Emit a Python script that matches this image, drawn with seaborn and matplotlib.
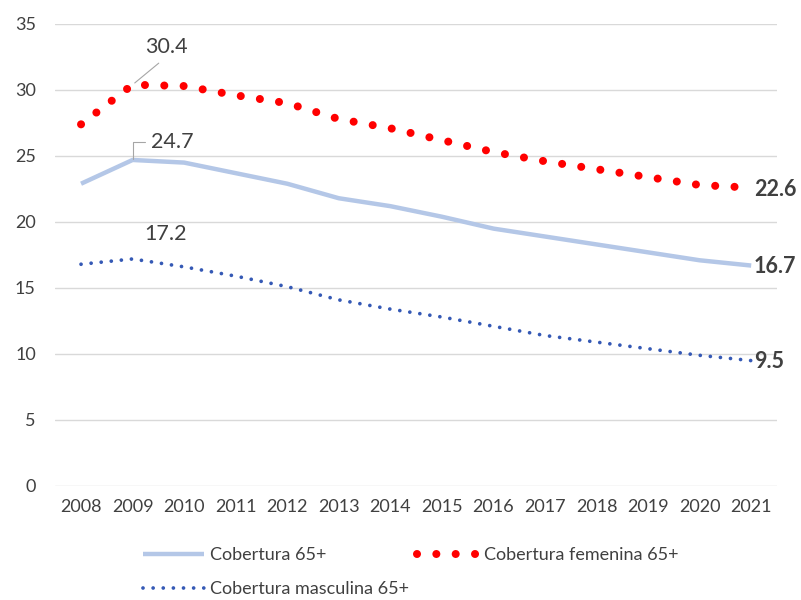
import pandas as pd
import matplotlib.pyplot as plt
import seaborn as sns

# Data
years = list(range(2008, 2022))
total = [22.9, 24.7, 24.5, 23.7, 22.9, 21.8, 21.2, 20.4, 19.5, 18.9, 18.3, 17.7, 17.1, 16.7]
female = [27.4, 30.4, 30.3, 29.6, 29.0, 27.8, 27.1, 26.2, 25.3, 24.6, 24.0, 23.4, 22.8, 22.6]
male = [16.8, 17.2, 16.6, 15.9, 15.1, 14.1, 13.4, 12.8, 12.1, 11.4, 10.9, 10.4, 9.9, 9.5]
names = ['Cobertura 65+', 'Cobertura femenina 65+', 'Cobertura masculina 65+']

sns.set_theme(style='whitegrid')
plt.rcParams['font.family'] = ['Lato', 'DejaVu Sans']
txt = '#404040'

df = pd.DataFrame({'year': years, names[0]: total, names[1]: female, names[2]: male})

fig, ax = plt.subplots(figsize=(8.01, 6.0), dpi=100)
fig.subplots_adjust(left=0.069, right=0.97, top=0.96, bottom=0.19)

sns.lineplot(data=df, x='year', y=names[0], ax=ax, color='#B4C7E7', linewidth=3.2,
             label=names[0], solid_capstyle='butt')
sns.lineplot(data=df, x='year', y=names[1], ax=ax, color='#FF0000', linewidth=5.8,
             linestyle=(0, (0.001, 2.4)), dash_capstyle='round', label=names[1])
sns.lineplot(data=df, x='year', y=names[2], ax=ax, color='#3559B5', linewidth=2.7,
             linestyle=(0, (0.001, 2.7)), dash_capstyle='round', label=names[2])

ax.set_xlim(2007.5, 2021.5)
ax.set_ylim(0, 35)
ax.set_xticks(years)
ax.set_yticks(range(0, 36, 5))
ax.set_xlabel('')
ax.set_ylabel('')
ax.grid(axis='x', visible=False)
ax.grid(axis='y', color='#D9D9D9', linewidth=1)
for s in ax.spines.values():
    s.set_visible(False)
ax.tick_params(axis='both', colors=txt, labelsize=13, length=0)
ax.tick_params(axis='x', pad=9)
ax.tick_params(axis='y', pad=14)

# peak labels
ax.annotate('30.4', xy=(years[1], female[1]), xytext=(24, 27), textcoords='offset points',
            ha='center', va='center', fontsize=15.5, color=txt,
            arrowprops=dict(arrowstyle='-', color='#A6A6A6', lw=0.8, shrinkA=3, shrinkB=2,
                            relpos=(0.5, 0.0)))
ax.annotate('24.7', xy=(years[1], total[1]), xytext=(13, 13), textcoords='offset points',
            ha='left', va='center', fontsize=15.5, color=txt,
            arrowprops=dict(arrowstyle='-', color='#A6A6A6', lw=0.8, shrinkA=2, shrinkB=1,
                            relpos=(0.0, 0.5),
                            connectionstyle='angle,angleA=0,angleB=90,rad=0'))
ax.annotate('17.2', xy=(years[1], male[1]), xytext=(24, 18), textcoords='offset points',
            ha='center', va='center', fontsize=15.5, color=txt)

# end labels
for vals in (female, total, male):
    ax.annotate(f'{vals[-1]:.1f}', xy=(years[-1], vals[-1]), xytext=(2, -1),
                textcoords='offset points', ha='left', va='center', fontsize=15.5,
                fontweight='bold', color=txt, annotation_clip=False)

handles, labels = ax.get_legend_handles_labels()
ax.get_legend().remove()
order = [0, 2, 1]
fig.legend([handles[i] for i in order], [labels[i] for i in order],
           loc='lower left', bbox_to_anchor=(0.158, -0.022), ncol=2,
           frameon=False, fontsize=13, labelcolor=txt, handlelength=3.4,
           handletextpad=0.3, columnspacing=0.45, labelspacing=1.0)

fig.savefig('out.png', dpi=100)
